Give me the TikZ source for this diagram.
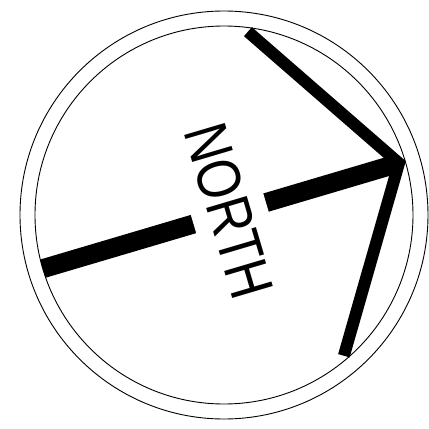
\documentclass[tikz,border=0pt]{standalone}
\usepackage{fontspec}
\setmainfont{Liberation Sans}
\usetikzlibrary{positioning}
\tikzset{
  % kompassros
  ring/.style={draw=black,line width=0.9pt},
  shaft/.style={draw=black,line width=19pt},
  barb/.style={draw=black,line width=12pt,line join=miter},
  lbl/.style={fill=white,inner xsep=2pt,inner ysep=16pt,
              font=\fontsize{61.5}{70}\selectfont},
}
\begin{document}
\begin{tikzpicture}[x=1pt,y=1pt]
\useasboundingbox (-224,-214) rectangle (205,215);
  \draw[ring] (0,0) circle (204);
  \draw[ring] (0,0) circle (189);
  \begin{scope}[rotate=16.5]
    \coordinate (tail) at (-195,0);
    \coordinate (tip) at (182.5,0);
    \coordinate (barbup) at (75,169);
    \coordinate (barbdn) at (75,-169);
    \begin{scope}
      \clip (0,0) circle (189);
      \draw[shaft] (tail) -- (tip);
    \end{scope}
    \node[lbl,transform shape,rotate=-90,xscale=0.82] (north) at (6,2) {NORTH};
    \draw[barb] (barbup) -- (tip) -- (barbdn);
  \end{scope}
\end{tikzpicture}
\end{document}
